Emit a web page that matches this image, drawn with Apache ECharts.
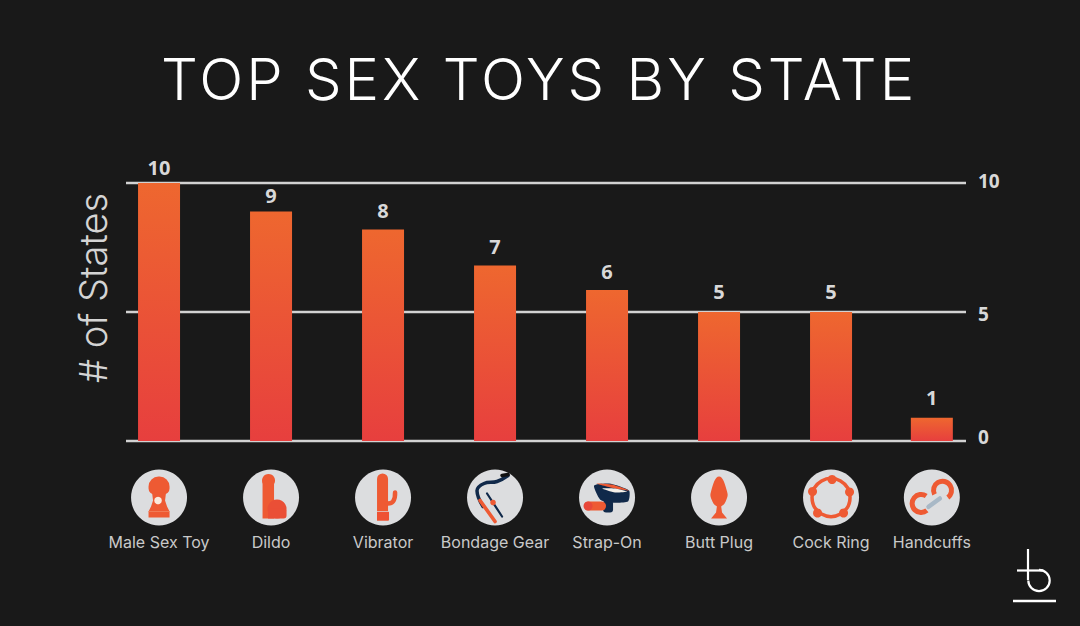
<!DOCTYPE html>
<html lang="en">
<head>
<meta charset="UTF-8">
<title>Top Sex Toys by State</title>
<script src="https://cdn.jsdelivr.net/npm/echarts@6/dist/echarts.min.js"></script>
<style>
    html, body { margin: 0; padding: 0; background: #191919; }
    #chart { width: 1080px; height: 626px; }
    /* echarts text has no letter spacing, so set it on the svg title */
    #chart text[style*="58px"] { letter-spacing: 3px; }
</style>
</head>
<body>
<div id="chart"></div>
<script>
var categories = ['Male Sex Toy', 'Dildo', 'Vibrator', 'Bondage Gear', 'Strap-On', 'Butt Plug', 'Cock Ring', 'Handcuffs'];
// numbers printed above the bars
var stateCounts = [10, 9, 8, 7, 6, 5, 5, 1];
// bar heights as drawn in the picture, they are a little off the printed numbers
var barHeights = [10, 8.9, 8.2, 6.8, 5.85, 5, 5, 0.9];
// the last column sits closer to its neighbour
var slots = [0, 1, 2, 3, 4, 5, 6, 6.9];
var yTicks = [0, 5, 10];
// gap in px between a bar and its number
var labelGaps = [6, 6, 9, 9, 9, 11, 11, 10];

var ORANGE = '#ee5a33';
var NAVY = '#10294a';
var DISC = '#dcdddf';

function circle(cx, cy, r, fill) {
    return { type: 'circle', shape: { cx: cx, cy: cy, r: r }, style: { fill: fill } };
}
function box(x, y, w, h, r, fill) {
    return { type: 'rect', shape: { x: x, y: y, width: w, height: h, r: r }, style: { fill: fill } };
}
function poly(points, fill, smooth) {
    return { type: 'polygon', shape: { points: points, smooth: smooth || 0 }, style: { fill: fill } };
}
function stroke(points, color, width, smooth) {
    return { type: 'polyline', shape: { points: points, smooth: smooth || 0 },
        style: { stroke: color, lineWidth: width, fill: null, lineCap: 'round' } };
}
function arc(cx, cy, r, start, end, color, width) {
    return { type: 'arc', shape: { cx: cx, cy: cy, r: r, startAngle: start, endAngle: end },
        style: { stroke: color, lineWidth: width, fill: null, lineCap: 'butt' } };
}

// one small drawing per category, offsets from the disc centre
var icons = [
    [
        box(-10.5, -21, 21, 18, [10, 10, 6, 6], ORANGE),
        poly([[-7, -5], [7, -5], [6, 3], [8, 9], [10.5, 14], [10.5, 20], [-10.5, 20], [-10.5, 14], [-8, 9], [-6, 3]], ORANGE),
        circle(-1, 3, 3.8, '#fbe9dc'),
        stroke([[-10.5, 14], [10.5, 14]], '#f28a66', 0.7)
    ],
    [
        box(-8.5, -18, 11.5, 39, 0, ORANGE),
        circle(-2.5, -17, 6.5, ORANGE),
        circle(6, 11.5, 9.5, '#ea4f36'),
        box(-3, 11, 18.5, 10, [0, 3, 3, 0], '#ea4f36')
    ],
    [
        box(-6, -24, 11, 47, [5.5, 5.5, 0, 0], ORANGE),
        stroke([[4, 6], [10, 4], [12, -5]], ORANGE, 4.5, 0.5),
        box(-6, 14, 12, 9, 0, '#ee5133'),
        stroke([[-6, 14], [6, 14]], DISC, 0.7)
    ],
    [
        stroke([[13, -22], [2, -16], [-11, -14], [-18, -7], [-12, 9]], NAVY, 3.5, 0.4),
        stroke([[7, -22], [13, -23]], '#111', 3.5),
        stroke([[-8, -4], [7, 19]], NAVY, 2.2),
        stroke([[-15, 3], [0, 24]], ORANGE, 3.6),
        circle(-2, 5, 2.8, ORANGE)
    ],
    [
        poly([[-13, -12], [2, -14], [22, -7], [21, 4], [2, 5], [-7, 2]], NAVY, 0.2),
        box(-4, 3, 10, 12, 3, NAVY),
        poly([[-11, -14], [5, -13], [22, -7], [8, -9]], ORANGE, 0.2),
        poly([[-5, -9], [8, -9], [20, -6], [8, -5]], '#f4efe9', 0.2),
        box(-23, 4, 22, 9, 4.5, ORANGE),
        circle(-19, 8.5, 4.5, '#e8483a')
    ],
    [
        poly([[0, -21], [8, -6], [7, 3], [2, 9], [-2, 9], [-7, 3], [-8, -6]], ORANGE, 0.5),
        poly([[-2, 8], [2, 8], [3, 15], [8, 21], [-8, 21], [-3, 15]], ORANGE)
    ],
    [
        { type: 'circle', shape: { cx: 0, cy: 0, r: 19 }, style: { fill: null, stroke: ORANGE, lineWidth: 3.5 } },
        circle(1, -18, 4.5, ORANGE),
        circle(18.5, -5.5, 4.5, ORANGE),
        circle(12.5, 15.5, 4.5, ORANGE),
        circle(-13.5, 15.5, 4.5, ORANGE),
        circle(-18.5, -6, 4.5, ORANGE)
    ],
    [
        arc(10.7, -7.3, 9, Math.PI * 0.85, Math.PI * 0.3, ORANGE, 5),
        arc(-10.7, 6, 9, Math.PI * 0.28, Math.PI * 1.69, ORANGE, 5),
        stroke([[-3.3, 9.3], [8, 1]], '#a8b8c6', 4.5)
    ]
];

function renderIcon(params, api) {
    var p = api.coord([api.value(0), 0]);
    return {
        type: 'group',
        x: p[0],
        y: p[1] + 56.5,
        silent: true,
        children: [circle(0, 0, 28, DISC)].concat(icons[params.dataIndex])
    };
}

var tickFont = { color: '#d8d8d8', fontFamily: 'Open Sans', fontWeight: 700, fontSize: 19 };

var chart = echarts.init(document.getElementById('chart'), null, { renderer: 'svg' });

chart.setOption({
    animation: false,
    backgroundColor: '#191919',
    textStyle: { fontFamily: 'Inter' },
    title: {
        text: 'TOP SEX TOYS BY STATE',
        left: 156,
        top: 45,
        textStyle: { color: '#ffffff', fontFamily: 'Inter', fontWeight: 300, fontSize: 58 }
    },
    grid: { left: 126, right: 114, top: 183, bottom: 185 },
    xAxis: {
        type: 'value',
        min: -0.295,
        max: 7.205,
        axisLine: { show: false },
        axisTick: { show: false },
        splitLine: { show: false },
        axisLabel: {
            customValues: slots,
            margin: 93,
            color: '#c9c9c9',
            fontFamily: 'Inter',
            fontSize: 16,
            formatter: function (v) { return categories[slots.indexOf(v)]; }
        }
    },
    yAxis: [
        {
            type: 'value',
            min: 0,
            max: 10,
            interval: 5,
            name: '# of States',
            nameLocation: 'middle',
            nameGap: 14,
            nameTextStyle: { color: '#d4d4d4', fontFamily: 'Inter', fontWeight: 300, fontSize: 38, padding: [0, 0, 0, 48] },
            axisLine: { show: false },
            axisTick: { show: false },
            axisLabel: { show: false },
            splitLine: { lineStyle: { color: '#d2d2d2', width: 2.4 } }
        },
        {
            type: 'value',
            position: 'right',
            min: 0,
            max: 10,
            interval: 5,
            axisLine: { show: false },
            axisTick: { show: false },
            splitLine: { show: false },
            axisLabel: {
                margin: 12,
                align: 'left',
                customValues: yTicks,
                color: tickFont.color,
                fontFamily: tickFont.fontFamily,
                fontWeight: tickFont.fontWeight,
                fontSize: tickFont.fontSize,
                // the printed ticks do not sit quite on their lines
                formatter: function (v) { return '{t' + v + '|' + v + '}'; },
                rich: {
                    t10: Object.assign({ padding: [0, 0, 4, 0] }, tickFont),
                    t5: Object.assign({ padding: [4, 0, 0, 0] }, tickFont),
                    t0: Object.assign({ padding: [0, 0, 8, 0] }, tickFont)
                }
            }
        }
    ],
    series: [
        {
            type: 'bar',
            barWidth: 42,
            z: 3,
            data: barHeights.map(function (h, i) {
                return { value: [slots[i], h], label: { distance: labelGaps[i] } };
            }),
            itemStyle: {
                color: new echarts.graphic.LinearGradient(0, 0, 0, 1, [
                    { offset: 0, color: '#ee672f' },
                    { offset: 1, color: '#e73f3e' }
                ])
            },
            label: {
                show: true,
                position: 'top',
                color: '#d8d8d8',
                fontFamily: 'Open Sans',
                fontWeight: 700,
                fontSize: 20,
                formatter: function (p) { return String(stateCounts[p.dataIndex]); }
            }
        },
        {
            type: 'custom',
            data: slots.map(function (s) { return [s]; }),
            encode: { x: 0 },
            renderItem: renderIcon,
            z: 4
        }
    ],
    // logo in the corner
    graphic: [
        { type: 'line', shape: { x1: 1028, y1: 549, x2: 1028, y2: 580 },
            silent: true, style: { stroke: '#ffffff', lineWidth: 2.2 } },
        { type: 'arc', shape: { cx: 1039, cy: 580.5, r: 10.7, startAngle: -Math.PI / 2, endAngle: Math.PI, clockwise: true },
            silent: true, style: { stroke: '#ffffff', lineWidth: 2.2, fill: null } },
        { type: 'line', shape: { x1: 1017, y1: 570.5, x2: 1043, y2: 570.5 },
            silent: true, style: { stroke: '#ffffff', lineWidth: 2.2 } },
        { type: 'line', shape: { x1: 1013, y1: 601, x2: 1056, y2: 601 },
            silent: true, style: { stroke: '#ffffff', lineWidth: 2.4 } }
    ]
});
</script>
</body>
</html>
